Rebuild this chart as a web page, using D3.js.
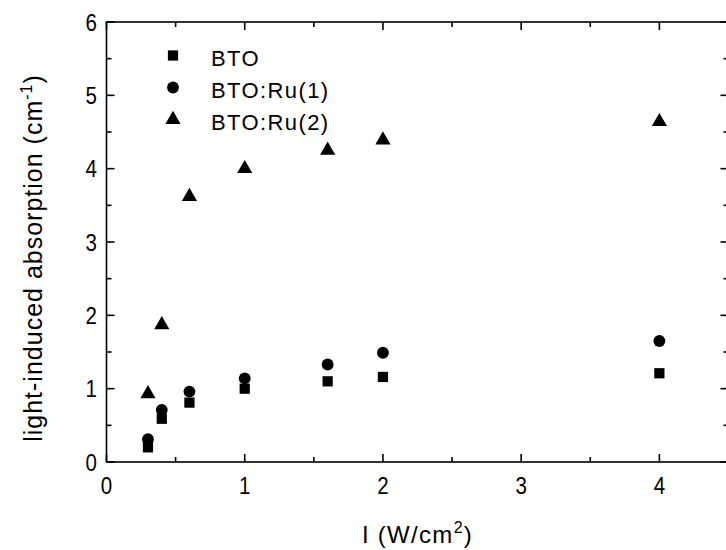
<!DOCTYPE html>
<html><head><meta charset="utf-8">
<script src="https://cdn.jsdelivr.net/npm/d3@7"></script>
<style>body{margin:0;background:#fff}svg{display:block}text{font-family:"Liberation Sans",Arial,sans-serif;fill:#000}</style>
</head><body><svg id="c" width="726" height="550"></svg>
<script>
const intensity = [0.3, 0.4, 0.6, 1.0, 1.6, 2.0, 4.0];
const bto      = [0.20, 0.59, 0.81, 1.00, 1.10, 1.16, 1.21];
const btoRu1   = [0.31, 0.71, 0.96, 1.14, 1.33, 1.49, 1.65];
const btoRu2   = [0.93, 1.87, 3.62, 4.00, 4.25, 4.39, 4.64];
const seriesNames = ["BTO", "BTO:Ru(1)", "BTO:Ru(2)"];
const xTickLabels = ["0", "1", "2", "3", "4"];
const yTickLabels = ["0", "1", "2", "3", "4", "5", "6"];

const svg = d3.select("#c");
const L = 106.5, R = 728.5, T = 22, B = 462;
const x = d3.scaleLinear().domain([0, 4.5]).range([L, R]);
const y = d3.scaleLinear().domain([0, 6]).range([B, T]);

const g = svg.append("g");
g.append("rect").attr("x", L).attr("y", T).attr("width", R - L).attr("height", B - T)
  .attr("fill", "none").attr("stroke", "#000").attr("stroke-width", 1.6);

const xMajor = d3.range(0, 5, 1), xMinor = d3.range(0.5, 4.5, 1);
const yMajor = d3.range(0, 7, 1), yMinor = d3.range(0.5, 6, 1);
const tk = g.append("g").attr("stroke", "#000").attr("stroke-width", 1.6);
function xt(vals, len) {
  vals.forEach(v => {
    tk.append("line").attr("x1", x(v)).attr("x2", x(v)).attr("y1", B).attr("y2", B - len);
    tk.append("line").attr("x1", x(v)).attr("x2", x(v)).attr("y1", T).attr("y2", T + len);
  });
}
function yt(vals, len) {
  vals.forEach(v => {
    tk.append("line").attr("y1", y(v)).attr("y2", y(v)).attr("x1", L).attr("x2", L + len);
    tk.append("line").attr("y1", y(v)).attr("y2", y(v)).attr("x1", R).attr("x2", R - len);
  });
}
xt(xMajor, 8); xt(xMinor, 5); yt(yMajor, 8); yt(yMinor, 5);

// tick labels: slightly tall, narrow digits
xTickLabels.forEach(t => {
  g.append("text").attr("transform", `translate(${x(+t)},${B + 31.5}) scale(1,1.16)`)
    .attr("text-anchor", "middle").attr("font-size", 20.5).text(t);
});
yTickLabels.forEach(t => {
  g.append("text").attr("transform", `translate(${L - 9.5},${y(+t) + 8.5}) scale(1,1.16)`)
    .attr("text-anchor", "end").attr("font-size", 20.5).text(t);
});

const xt2 = g.append("text").attr("x", (L + R) / 2).attr("y", 543).attr("text-anchor", "middle")
  .attr("font-size", 24).attr("letter-spacing", 1.3);
xt2.append("tspan").text("I (W/cm");
xt2.append("tspan").attr("font-size", 16).attr("dy", -10).text("2");
xt2.append("tspan").attr("dy", 10).text(")");

const yt2 = g.append("text").attr("transform", "translate(42,258) rotate(-90)").attr("text-anchor", "middle")
  .attr("font-size", 25).attr("letter-spacing", 1);
yt2.append("tspan").text("light-induced absorption (cm");
yt2.append("tspan").attr("font-size", 16).attr("dy", -10).text("-1");
yt2.append("tspan").attr("dy", 10).text(")");

const shapes = [d3.symbolSquare, d3.symbolCircle, d3.symbolTriangle];
const sizes = [105, 110, 100];
const allSeries = [bto, btoRu1, btoRu2];
allSeries.forEach((vals, si) => {
  const sym = d3.symbol().type(shapes[si]).size(sizes[si]);
  g.append("g").selectAll("path").data(vals).join("path")
    .attr("d", sym)
    .attr("transform", (d, i) => `translate(${x(intensity[i])},${y(d)})`)
    .attr("fill", "#000");
});

const legMarkY = [55.5, 87.5, 119.5];
const legTextY = [65.5, 98, 130];
seriesNames.forEach((n, i) => {
  const sym = d3.symbol().type(shapes[i]).size(sizes[i]);
  g.append("path").attr("d", sym).attr("transform", `translate(173,${legMarkY[i]})`).attr("fill", "#000");
  g.append("text").attr("x", 211).attr("y", legTextY[i]).attr("font-size", 22)
    .attr("letter-spacing", 1.4).text(n);
});
</script></body></html>
